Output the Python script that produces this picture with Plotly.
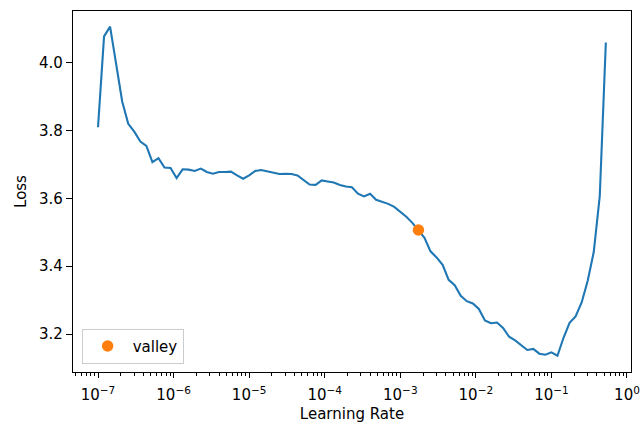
import plotly.graph_objects as go

# Learning rates (exponential schedule recorded by the LR finder)
lrs = [
    1.000e-7, 1.202e-7, 1.445e-7, 1.738e-7, 2.089e-7, 2.512e-7, 3.020e-7, 3.631e-7, 4.365e-7, 5.248e-7,
    6.310e-7, 7.586e-7, 9.120e-7, 1.096e-6, 1.318e-6, 1.585e-6, 1.905e-6, 2.291e-6, 2.754e-6, 3.311e-6,
    3.981e-6, 4.786e-6, 5.754e-6, 6.918e-6, 8.318e-6,
    1.000e-5, 1.202e-5, 1.445e-5, 1.738e-5, 2.089e-5, 2.512e-5, 3.020e-5, 3.631e-5, 4.365e-5, 5.248e-5,
    6.310e-5, 7.586e-5, 9.120e-5, 1.096e-4, 1.318e-4, 1.585e-4, 1.905e-4, 2.291e-4, 2.754e-4, 3.311e-4,
    3.981e-4, 4.786e-4, 5.754e-4, 6.918e-4, 8.318e-4,
    1.000e-3, 1.202e-3, 1.445e-3, 1.738e-3, 2.089e-3, 2.512e-3, 3.020e-3, 3.631e-3, 4.365e-3, 5.248e-3,
    6.310e-3, 7.586e-3, 9.120e-3, 1.096e-2, 1.318e-2, 1.585e-2, 1.905e-2, 2.291e-2, 2.754e-2, 3.311e-2,
    3.981e-2, 4.786e-2, 5.754e-2, 6.918e-2, 8.318e-2,
    1.000e-1, 1.202e-1, 1.445e-1, 1.738e-1, 2.089e-1, 2.512e-1, 3.020e-1, 3.631e-1, 4.365e-1, 5.248e-1,
]

losses = [
    3.810, 4.078, 4.107, 3.989, 3.886, 3.820, 3.797, 3.768, 3.755, 3.707,
    3.719, 3.691, 3.690, 3.660, 3.686, 3.685, 3.681, 3.688, 3.678, 3.673,
    3.678, 3.678, 3.679, 3.668, 3.658, 3.668, 3.681, 3.684, 3.680, 3.674,
    3.672, 3.673, 3.672, 3.668, 3.655, 3.641, 3.640, 3.653, 3.650, 3.647,
    3.640, 3.635, 3.633, 3.614, 3.606, 3.614, 3.596, 3.591, 3.584, 3.575,
    3.561, 3.546, 3.528, 3.507, 3.484, 3.444, 3.426, 3.404, 3.360, 3.344,
    3.313, 3.297, 3.290, 3.274, 3.240, 3.232, 3.234, 3.218, 3.192, 3.181,
    3.167, 3.153, 3.156, 3.142, 3.139, 3.146, 3.136, 3.189, 3.233, 3.252,
    3.293, 3.357, 3.442, 3.608, 4.060,
]

valley_lr = [1.738e-3]
valley_loss = [3.507]

x_tickvals = [1e-7, 1e-6, 1e-5, 1e-4, 1e-3, 1e-2, 1e-1, 1e0]
x_ticktext = ["10<sup>\u22127</sup>", "10<sup>\u22126</sup>", "10<sup>\u22125</sup>", "10<sup>\u22124</sup>",
              "10<sup>\u22123</sup>", "10<sup>\u22122</sup>", "10<sup>\u22121</sup>", "10<sup>0</sup>"]
x_minor = [d * 10.0 ** k for k in range(-8, 1) for d in range(2, 10)]
y_tickvals = [3.2, 3.4, 3.6, 3.8, 4.0]
y_ticktext = ["3.2", "3.4", "3.6", "3.8", "4.0"]

FONT = "DejaVu Sans"
FS = 15

fig = go.Figure()
fig.add_trace(go.Scatter(x=lrs, y=losses, mode="lines",
                         line=dict(color="#1f77b4", width=2.1), showlegend=False, hoverinfo="skip"))
fig.add_trace(go.Scatter(x=valley_lr, y=valley_loss, mode="markers", name="valley",
                         marker=dict(color="#ff7f0e", size=11.5)))

axis_common = dict(showline=True, mirror=True, linecolor="black", linewidth=1.2,
                   ticks="outside", tickwidth=1.1, tickcolor="black",
                   showgrid=False, zeroline=False, automargin=False,
                   tickfont=dict(family=FONT, size=FS, color="black"))

fig.update_xaxes(type="log", range=[-7.331, 0.053], tickmode="array",
                 tickvals=x_tickvals, ticktext=x_ticktext,
                 ticklen=5, ticklabelstandoff=4,
                 minor=dict(ticks="outside", ticklen=3, tickwidth=0.8, tickcolor="black",
                            tickmode="array", tickvals=x_minor, showgrid=False),
                 title=dict(text="Learning Rate", font=dict(family=FONT, size=FS, color="black"), standoff=9),
                 **axis_common)
fig.update_yaxes(range=[3.088, 4.153], tickmode="array", tickvals=y_tickvals, ticktext=y_ticktext,
                 ticklen=6,
                 title=dict(text="Loss", font=dict(family=FONT, size=FS, color="black"), standoff=8),
                 **axis_common)

fig.update_layout(
    width=640, height=423,
    margin=dict(l=73, r=9, t=11, b=51),
    paper_bgcolor="white", plot_bgcolor="white",
    font=dict(family=FONT, size=FS, color="black"),
    legend=dict(x=0.0155, y=0.023, xanchor="left", yanchor="bottom",
                bgcolor="rgba(255,255,255,0.8)", bordercolor="#cccccc", borderwidth=1,
                itemwidth=40,
                font=dict(family=FONT, size=FS, color="black")),
)

fig.write_html("out.html")
